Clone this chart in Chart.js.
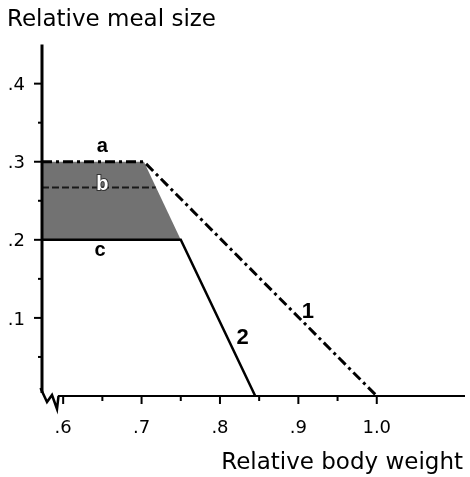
<!DOCTYPE html>
<html><head><meta charset="utf-8">
<script src="https://cdn.jsdelivr.net/npm/chart.js@4"></script>
<style>html,body{margin:0;padding:0;background:#fff}canvas{display:block}</style>
</head><body>
<canvas id="c" width="470" height="477"></canvas>
<script>
// ---- data ----
const line1X = [0.573, 0.703, 1.0];   // curve 1 (dash-dot), with segment "a"
const line1Y = [0.3, 0.3, 0.0];
const line2X = [0.573, 0.75, 0.845];  // curve 2 (solid), with segment "c"
const line2Y = [0.2, 0.2, 0.0];
const lineBX = [0.573, 0.718];        // segment "b" (dashed)
const lineBY = [0.267, 0.267];
const shadeX = [0.573, 0.573, 0.703, 0.75, 0.573];
const shadeY = [0.2, 0.3, 0.3, 0.2, 0.2];
const xMajorTicks = [0.6, 0.7, 0.8, 0.9, 1.0];
const xTickLabels = ['.6', '.7', '.8', '.9', '1.0'];
const xMinorTicks = [0.65, 0.75, 0.85, 0.95];
const yMajorTicks = [0.1, 0.2, 0.3, 0.4];
const yTickLabels = ['.1', '.2', '.3', '.4'];
const yMinorTicks = [0.05, 0.15, 0.25, 0.35];
const markTexts = ['a', 'b', 'c', '1', '2'];
const markX = [0.65, 0.65, 0.647, 0.912, 0.829];
const markY = [0.319, 0.271, 0.186, 0.108, 0.074];

const pts = (xs, ys) => xs.map((x, i) => ({x: x, y: ys[i]}));
const near = (arr, v) => arr.findIndex(a => Math.abs(a - v) < 1e-6);

const axesPlugin = {
  id: 'axesPlugin',
  afterDatasetsDraw(chart) {
    const ctx = chart.ctx, xs = chart.scales.x, ys = chart.scales.y;
    const L = chart.chartArea.left, R = chart.chartArea.right, T = chart.chartArea.top, B = ys.getPixelForValue(0);
    ctx.save();
    ctx.strokeStyle = '#000';
    ctx.lineCap = 'butt';
    // y axis line
    ctx.lineWidth = 3;
    ctx.beginPath(); ctx.moveTo(L, T); ctx.lineTo(L, B - 3); ctx.stroke();
    // axis break zigzag and x axis line
    ctx.lineWidth = 2.5;
    ctx.lineJoin = 'miter';
    ctx.beginPath();
    ctx.moveTo(L - 1.5, B - 8);
    ctx.lineTo(L + 5, B + 6);
    ctx.lineTo(L + 10, B - 1);
    ctx.lineTo(L + 15, B + 13);
    ctx.lineTo(L + 16.5, B);
    ctx.stroke();
    ctx.lineWidth = 2;
    ctx.beginPath(); ctx.moveTo(L + 16, B); ctx.lineTo(R + 2, B); ctx.stroke();
    // y ticks
    ctx.lineWidth = 2;
    yMajorTicks.forEach(v => { const p = ys.getPixelForValue(v); ctx.beginPath(); ctx.moveTo(L - 8, p); ctx.lineTo(L, p); ctx.stroke(); });
    yMinorTicks.forEach(v => { const p = ys.getPixelForValue(v); ctx.beginPath(); ctx.moveTo(L - 4, p); ctx.lineTo(L, p); ctx.stroke(); });
    // x ticks
    xMajorTicks.forEach(v => { const p = xs.getPixelForValue(v); ctx.beginPath(); ctx.moveTo(p, B); ctx.lineTo(p, B + 8); ctx.stroke(); });
    xMinorTicks.forEach(v => { const p = xs.getPixelForValue(v); ctx.beginPath(); ctx.moveTo(p, B); ctx.lineTo(p, B + 5); ctx.stroke(); });
    // curve labels
    ctx.textAlign = 'center';
    ctx.textBaseline = 'middle';
    markTexts.forEach((t, i) => {
      const px = xs.getPixelForValue(markX[i]), py = ys.getPixelForValue(markY[i]);
      const isDigit = /\d/.test(t);
      ctx.font = 'bold ' + (isDigit ? 22 : 20) + 'px "Liberation Sans", Arial, sans-serif';
      if (t === 'b') {
        ctx.lineWidth = 2; ctx.strokeStyle = '#333'; ctx.strokeText(t, px, py);
        ctx.fillStyle = '#fff';
      } else {
        ctx.fillStyle = '#000';
      }
      ctx.fillText(t, px, py);
    });
    ctx.restore();
  }
};

const tickFont = {family: 'DejaVu Sans', size: 18, weight: 'normal'};
const titleFont = {family: 'DejaVu Sans', size: 23, weight: 'normal', lineHeight: 1.2};

new Chart(document.getElementById('c'), {
  type: 'scatter',
  data: {
    datasets: [
      { label: 'a/1', data: pts(line1X, line1Y), showLine: true, borderColor: '#000', borderWidth: 3,
        borderDash: [10, 4, 3, 4], pointRadius: 0, fill: false, clip: false },
      { label: 'c/2', data: pts(line2X, line2Y), showLine: true, borderColor: '#000', borderWidth: 2.5,
        pointRadius: 0, fill: false, clip: false },
      { label: 'b', data: pts(lineBX, lineBY), showLine: true, borderColor: '#1a1a1a', borderWidth: 2,
        borderDash: [7, 3], pointRadius: 0, fill: false, clip: false },
      { label: 'shade', data: pts(shadeX, shadeY), showLine: true, borderWidth: 0, borderColor: 'rgba(0,0,0,0)',
        backgroundColor: '#727272', pointRadius: 0, fill: 'shape', clip: false }
    ]
  },
  options: {
    responsive: false,
    animation: false,
    devicePixelRatio: 1,
    layout: { padding: { left: 7, right: 7, top: 0, bottom: 0 } },
    plugins: {
      legend: { display: false },
      tooltip: { enabled: false },
      title: { display: true, text: 'Relative meal size', align: 'start', color: '#000',
        font: titleFont, padding: { top: 6, bottom: 11 } }
    },
    scales: {
      x: {
        type: 'linear', position: 'bottom', min: 0.573, max: 1.11,
        grid: { display: false, drawTicks: false }, border: { display: false },
        afterBuildTicks: s => { s.ticks = xMajorTicks.map(v => ({value: v})); },
        afterFit: s => { s.height = 81; },
        ticks: { color: '#000', font: tickFont, padding: 22, autoSkip: false, maxRotation: 0,
          callback: v => { const i = near(xMajorTicks, v); return i >= 0 ? xTickLabels[i] : ''; } },
        title: { display: true, text: 'Relative body weight', align: 'end', color: '#000',
          font: titleFont, padding: { top: 0, bottom: 0 } }
      },
      y: {
        type: 'linear', position: 'left', min: 0, max: 0.45,
        grid: { display: false, drawTicks: false }, border: { display: false },
        afterBuildTicks: s => { s.ticks = yMajorTicks.map(v => ({value: v})); },
        afterFit: s => { s.width = 35; },
        ticks: { color: '#000', font: tickFont, padding: 17, labelOffset: 2,
          callback: v => { const i = near(yMajorTicks, v); return i >= 0 ? yTickLabels[i] : ''; } }
      }
    }
  },
  plugins: [axesPlugin]
});
</script>
</body></html>
